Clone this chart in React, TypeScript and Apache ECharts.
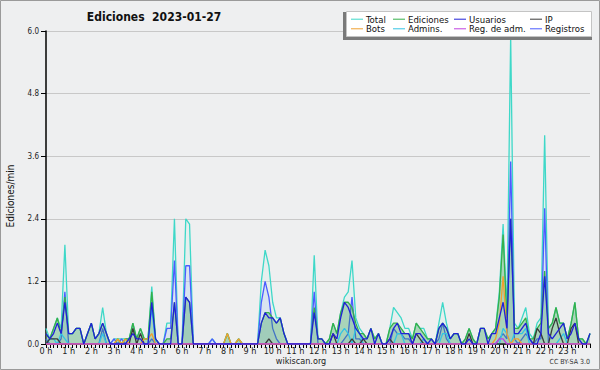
import React, { useEffect, useRef } from 'react';
import * as echarts from 'echarts';

// Values every 10 minutes from 00:00 to 24:00 (145 points), in edits/min
const total = [
  0.3, 0.1, 0.3, 0.5, 0.3, 1.9, 0.2, 0.2, 0.3, 0.3, 0, 0.2,
  0.4, 0.1, 0.2, 0.7, 0.2, 0, 0.1, 0.1, 0.1, 0.1, 0.1, 0.4,
  0.1, 0.3, 0.1, 0.1, 1.1, 0.1, 0, 0, 0.4, 0.4, 2.4, 0,
  0, 2.4, 2.3, 0, 0, 0, 0, 0, 0.1, 0, 0, 0,
  0.2, 0, 0, 0.1, 0, 0, 0, 0, 0, 1.2, 1.8, 1.5,
  0.8, 0.5, 0.5, 0.2, 0, 0, 0, 0, 0, 0, 0, 1.7,
  0.1, 0.1, 0, 0.1, 0.4, 0.2, 0.6, 0.9, 1.0, 1.6, 0.5, 0.3,
  0.2, 0.1, 0.3, 0.1, 0.2, 0, 0, 0.3, 0.7, 0.6, 0.5, 0.3,
  0.3, 0.1, 0.4, 0.3, 0.3, 0.1, 0.1, 0, 0.4, 0.8, 0.4, 0.1,
  0.2, 0.2, 0, 0.1, 0.3, 0.1, 0, 0.3, 0.3, 0.1, 0.2, 0.3,
  1.0, 2.3, 0.6, 5.9, 0.4, 0.3, 0.5, 0.7, 0.2, 0.1, 0.4, 0.5,
  4.0, 0.3, 0.4, 0.7, 0.4, 0.4, 0.1, 0.4, 0.8, 0.1, 0.1, 0,
  0.2,
];

const ediciones = [
  0.2, 0.1, 0.3, 0.5, 0.2, 0.9, 0.2, 0.2, 0.3, 0.3, 0, 0.2,
  0.4, 0.1, 0.2, 0.4, 0.2, 0, 0, 0.1, 0, 0.1, 0.1, 0.4,
  0.1, 0.3, 0.1, 0.1, 1.0, 0.1, 0, 0, 0.1, 0.1, 0.8, 0,
  0, 0.9, 0.8, 0, 0, 0, 0, 0, 0, 0, 0, 0,
  0.2, 0, 0, 0.1, 0, 0, 0, 0, 0, 0.4, 0.6, 0.6,
  0.5, 0.4, 0.5, 0.2, 0, 0, 0, 0, 0, 0, 0, 0.7,
  0.1, 0.1, 0, 0.1, 0.4, 0.2, 0.6, 0.8, 0.8, 0.7, 0.4, 0.2,
  0.2, 0.1, 0.3, 0.1, 0.2, 0, 0, 0.3, 0.4, 0.4, 0.3, 0.2,
  0.2, 0.1, 0.4, 0.3, 0.2, 0.1, 0.1, 0, 0.3, 0.4, 0.3, 0.1,
  0.2, 0.2, 0, 0.1, 0.3, 0.1, 0, 0.3, 0.3, 0.1, 0.2, 0.3,
  0.9, 2.1, 0.5, 2.4, 0.3, 0.3, 0.4, 0.5, 0.1, 0.1, 0.3, 0.4,
  1.4, 0.3, 0.4, 0.7, 0.4, 0.4, 0.1, 0.4, 0.8, 0.1, 0.1, 0,
  0.2,
];

const usuarios = [
  0.2, 0.1, 0.2, 0.4, 0.2, 0.8, 0.2, 0.2, 0.3, 0.3, 0, 0.2,
  0.4, 0.1, 0.2, 0.4, 0.2, 0, 0, 0, 0, 0, 0.1, 0.2,
  0.1, 0.1, 0, 0, 0.8, 0.1, 0, 0, 0, 0, 0.8, 0,
  0, 0.9, 0.8, 0, 0, 0, 0, 0, 0, 0, 0, 0,
  0, 0, 0, 0, 0, 0, 0, 0, 0, 0.4, 0.6, 0.5,
  0.5, 0.4, 0.5, 0.2, 0, 0, 0, 0, 0, 0, 0, 0.6,
  0.1, 0.1, 0, 0, 0.2, 0.1, 0.5, 0.8, 0.7, 0.5, 0.3, 0.2,
  0.1, 0.1, 0.3, 0, 0.2, 0, 0, 0.1, 0.3, 0.4, 0.2, 0.2,
  0.2, 0, 0.2, 0.2, 0.1, 0, 0.1, 0, 0.3, 0.4, 0.3, 0.1,
  0.2, 0.2, 0, 0, 0.1, 0, 0, 0.3, 0.3, 0, 0.2, 0.2,
  0.5, 0.8, 0.3, 2.4, 0.2, 0.2, 0.3, 0.4, 0.1, 0, 0, 0.2,
  1.3, 0.2, 0.1, 0.2, 0.3, 0.4, 0.1, 0.2, 0.4, 0.1, 0, 0,
  0.2,
];

const ip = [
  0, 0.1, 0.1, 0.1, 0, 0, 0, 0, 0, 0, 0, 0,
  0, 0, 0, 0, 0, 0, 0, 0, 0, 0, 0, 0.3,
  0, 0.2, 0, 0, 0, 0, 0, 0, 0, 0, 0, 0,
  0, 0, 0, 0, 0, 0, 0, 0, 0, 0, 0, 0,
  0, 0, 0, 0, 0, 0, 0, 0, 0, 0, 0, 0.1,
  0, 0, 0, 0, 0, 0, 0, 0, 0, 0, 0, 0,
  0, 0, 0, 0, 0.2, 0, 0, 0, 0, 0.1, 0, 0,
  0.1, 0, 0, 0, 0, 0, 0, 0.1, 0, 0, 0, 0,
  0, 0, 0.2, 0.1, 0, 0, 0, 0, 0, 0, 0, 0,
  0, 0, 0, 0, 0.2, 0, 0, 0, 0, 0, 0, 0,
  0, 0, 0, 0, 0, 0, 0, 0, 0, 0, 0.3, 0.2,
  0, 0, 0.3, 0.5, 0.2, 0, 0, 0.3, 0.4, 0, 0, 0,
  0,
];

const bots = [
  0, 0, 0, 0, 0, 0, 0, 0, 0, 0, 0, 0,
  0, 0, 0, 0, 0, 0, 0, 0.1, 0, 0.1, 0, 0,
  0, 0, 0.1, 0.1, 0.2, 0, 0, 0, 0, 0, 0, 0,
  0, 0, 0, 0, 0, 0, 0, 0, 0, 0, 0, 0,
  0.2, 0, 0, 0.1, 0, 0, 0, 0, 0, 0, 0, 0,
  0, 0, 0, 0, 0, 0, 0, 0, 0, 0, 0, 0,
  0, 0, 0, 0, 0, 0, 0, 0, 0, 0, 0, 0,
  0, 0, 0, 0, 0, 0, 0, 0, 0, 0, 0, 0,
  0, 0, 0, 0, 0, 0, 0, 0, 0, 0, 0, 0,
  0, 0, 0, 0, 0, 0, 0, 0, 0, 0, 0, 0.1,
  0.4, 1.3, 0.2, 0, 0.1, 0.1, 0, 0, 0, 0, 0, 0,
  0, 0, 0, 0, 0, 0, 0, 0, 0, 0, 0, 0,
  0,
];

const admins = [
  0, 0.1, 0.1, 0, 0.2, 0.1, 0, 0, 0, 0, 0, 0,
  0, 0, 0, 0.2, 0, 0, 0, 0, 0, 0, 0, 0,
  0, 0, 0, 0, 0.7, 0, 0, 0, 0, 0, 0, 0,
  0, 0, 0, 0, 0, 0, 0, 0, 0, 0, 0, 0,
  0, 0, 0, 0, 0, 0, 0, 0, 0, 0, 0, 0,
  0, 0, 0, 0, 0, 0, 0, 0, 0, 0, 0, 0,
  0, 0, 0, 0, 0, 0, 0.2, 0.3, 0.2, 0, 0.3, 0.2,
  0, 0, 0, 0, 0, 0, 0, 0, 0, 0.2, 0.2, 0,
  0, 0, 0, 0, 0.1, 0, 0, 0, 0, 0.2, 0.2, 0,
  0, 0, 0, 0, 0, 0, 0, 0, 0, 0, 0, 0,
  0, 0.3, 0.2, 0, 0.2, 0.2, 0.2, 0.3, 0, 0, 0, 0,
  0, 0, 0, 0, 0.1, 0.2, 0, 0, 0, 0, 0, 0,
  0,
];

const regAdm = [
  0, 0, 0, 0, 0, 0, 0, 0, 0, 0, 0, 0,
  0, 0, 0, 0, 0, 0, 0, 0, 0, 0, 0, 0,
  0, 0, 0, 0, 0, 0, 0, 0, 0, 0, 0, 0,
  0, 0, 0, 0, 0, 0, 0, 0, 0, 0, 0, 0,
  0, 0, 0, 0, 0, 0, 0, 0, 0, 0, 0, 0,
  0, 0, 0, 0, 0, 0, 0, 0, 0, 0, 0, 0,
  0, 0, 0, 0, 0, 0, 0, 0, 0, 0, 0, 0,
  0, 0, 0, 0, 0, 0, 0, 0, 0, 0, 0, 0,
  0, 0, 0, 0, 0, 0, 0, 0, 0, 0, 0, 0,
  0, 0, 0, 0, 0, 0, 0, 0, 0, 0, 0, 0,
  0.1, 0.1, 0, 0, 0, 0, 0, 0, 0, 0, 0, 0,
  0, 0, 0, 0, 0, 0, 0, 0, 0, 0, 0, 0,
  0,
];

const registros = [
  0.1, 0, 0, 0, 0.1, 1.0, 0, 0, 0, 0, 0, 0,
  0, 0, 0, 0.3, 0, 0, 0.1, 0, 0.1, 0, 0, 0,
  0, 0, 0, 0, 0.1, 0, 0, 0, 0.3, 0.3, 1.6, 0,
  0, 1.5, 1.5, 0, 0, 0, 0, 0, 0.1, 0, 0, 0,
  0, 0, 0, 0, 0, 0, 0, 0, 0, 0.8, 1.2, 0.9,
  0.3, 0.1, 0, 0, 0, 0, 0, 0, 0, 0, 0, 1.0,
  0, 0, 0, 0, 0, 0, 0, 0.1, 0.2, 0.9, 0.1, 0.1,
  0, 0, 0, 0, 0, 0, 0, 0, 0.3, 0.2, 0.2, 0.1,
  0.1, 0, 0, 0, 0.1, 0, 0, 0, 0.1, 0.4, 0.1, 0,
  0, 0, 0, 0, 0, 0, 0, 0, 0, 0, 0, 0,
  0.1, 0.2, 0.1, 3.5, 0.1, 0, 0.1, 0.2, 0.1, 0, 0.1, 0.1,
  2.6, 0, 0, 0, 0, 0, 0, 0, 0, 0, 0, 0,
  0,
];

const legendNames = ['Total', 'Ediciones', 'Usuarios', 'IP', 'Bots', 'Admins.', 'Reg. de adm.', 'Registros'];
const titleText = 'Ediciones  2023-01-27';
const yAxisName = 'Ediciones/min';

const FONT = '"DejaVu Sans Condensed", "DejaVu Sans", sans-serif';

const colors: Record<string, string> = {
  Total: '#3ed8c8',
  Ediciones: '#35b04a',
  Usuarios: '#2020d8',
  IP: '#3a3a3a',
  Bots: '#f0a030',
  'Admins.': '#34c4e4',
  'Reg. de adm.': '#c040e0',
  Registros: '#4a5cff',
};

export default function App() {
  const ref = useRef<HTMLDivElement>(null);
  useEffect(() => {
    const chart = echarts.init(ref.current!, null, { renderer: 'svg' });
    const pts = (arr: number[]) => arr.map((v, i) => [i / 6, v]);
    const line = (name: string, arr: number[], extra: any = {}) => ({
      name,
      type: 'line',
      data: pts(arr),
      symbol: 'none',
      lineStyle: { color: colors[name], width: 1.3 },
      itemStyle: { color: colors[name] },
      ...extra,
    });

    const colX = [366, 408, 469, 545];
    const rowY = [19.2, 28.8];
    const legendEls: any[] = [
      { type: 'rect', shape: { x: 343, y: 12, width: 249, height: 28 }, style: { fill: '#7a7a7a' }, z: 100 },
      { type: 'rect', shape: { x: 346.5, y: 11.5, width: 245, height: 25 }, style: { fill: '#ffffff', stroke: '#c4c4c4', lineWidth: 1 }, z: 101 },
    ];
    legendNames.forEach((n, k) => {
      const cx = colX[k % 4];
      const cy = rowY[Math.floor(k / 4)];
      legendEls.push({
        type: 'line',
        shape: { x1: cx - 15, y1: cy, x2: cx - 3, y2: cy },
        style: { stroke: colors[n], lineWidth: 1 },
        z: 102,
      });
      legendEls.push({
        type: 'text',
        x: cx,
        y: cy,
        style: { text: n, fill: '#111', font: `9.5px ${FONT}`, lineHeight: 9, textVerticalAlign: 'middle', textAlign: 'left' },
        z: 102,
      });
    });

    const option: any = {
      animation: false,
      backgroundColor: '#eeeff0',
      grid: { left: 46, right: 10, top: 31, bottom: 26, containLabel: false },
      xAxis: {
        type: 'value',
        min: 0,
        max: 24,
        interval: 1,
        axisLine: { show: true, onZero: false, lineStyle: { color: '#000', width: 1.5 } },
        axisTick: { show: true, length: 4, lineStyle: { color: '#000' } },
        minorTick: { show: true, splitNumber: 6, length: 4, lineStyle: { color: '#000' } },
        splitLine: { show: false },
        axisLabel: {
          fontFamily: FONT,
          fontSize: 9,
          color: '#222',
          margin: 2,
          formatter: (v: number) => (v >= 24 ? '' : `${v} h`),
        },
      },
      yAxis: {
        type: 'value',
        min: 0,
        max: 6,
        interval: 1.2,
        axisLine: { show: true, lineStyle: { color: '#000', width: 1.5 } },
        axisTick: { show: true, length: 5, lineStyle: { color: '#000' } },
        splitLine: { show: true, lineStyle: { color: '#c8c8c8', width: 1 } },
        axisLabel: {
          fontFamily: FONT,
          fontSize: 8,
          color: '#222',
          margin: 7,
          formatter: (v: number) => v.toFixed(1),
        },
      },
      series: [
        line('Total', total, { areaStyle: { color: 'rgba(200,240,236,0.35)' }, z: 2 }),
        line('Registros', registros, { areaStyle: { color: 'rgba(150,170,255,0.22)' }, z: 3 }),
        line('Ediciones', ediciones, { areaStyle: { color: 'rgba(50,160,80,0.48)' }, z: 4 }),
        line('Admins.', admins, { z: 5 }),
        line('IP', ip, { z: 6 }),
        line('Bots', bots, { z: 7 }),
        line('Reg. de adm.', regAdm, { z: 8 }),
        line('Usuarios', usuarios, { z: 9 }),
      ],
      graphic: [
        { type: 'rect', shape: { x: 0.5, y: 0.5, width: 599, height: 369 }, style: { fill: 'none', stroke: '#9a9a9a', lineWidth: 1 }, z: 100 },
        {
          type: 'text', x: 154, y: 17,
          style: { text: titleText, font: `bold 12px ${FONT}`, fill: '#111', textAlign: 'center', textVerticalAlign: 'middle' },
          z: 100,
        },
        {
          type: 'text', x: 10, y: 196, rotation: Math.PI / 2,
          style: { text: yAxisName, font: `10px ${FONT}`, fill: '#111', textAlign: 'center', textVerticalAlign: 'middle' },
          z: 100,
        },
        {
          type: 'text', x: 301, y: 361,
          style: { text: 'wikiscan.org', font: `9px ${FONT}`, fill: '#222', textAlign: 'center', textVerticalAlign: 'middle' },
          z: 100,
        },
        {
          type: 'text', x: 590, y: 362,
          style: { text: 'CC BY-SA 3.0', font: `7px ${FONT}`, fill: '#333', textAlign: 'right', textVerticalAlign: 'middle' },
          z: 100,
        },
        ...legendEls,
      ],
    };
    chart.setOption(option);
    return () => chart.dispose();
  }, []);
  return <div ref={ref} style={{ position: 'fixed', left: 0, top: 0, width: 600, height: 370 }} />;
}
